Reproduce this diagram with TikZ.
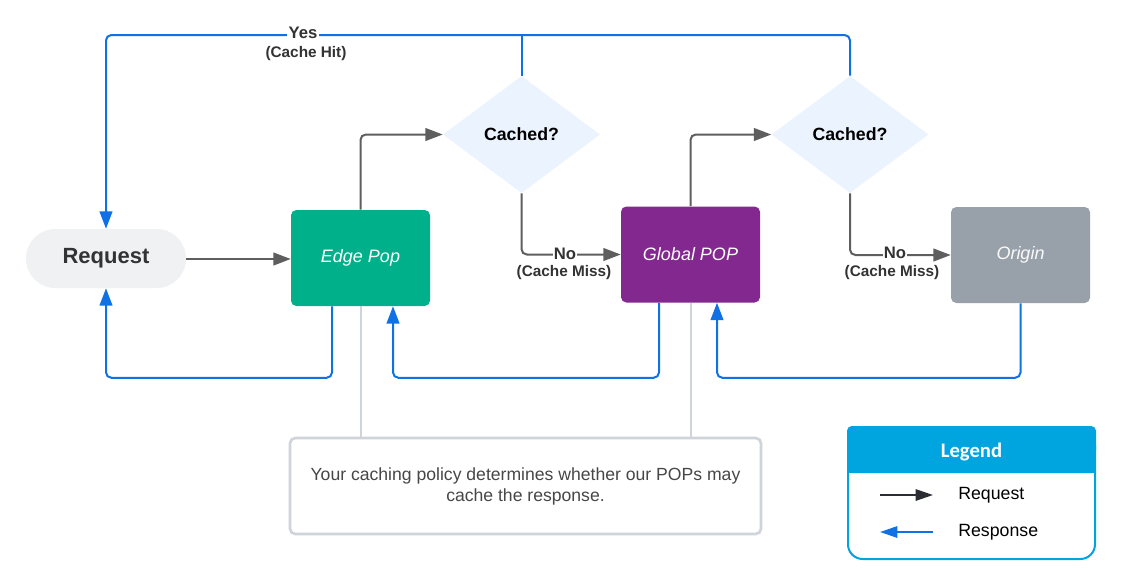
\documentclass[tikz,border=0pt]{standalone}
\usepackage{fontspec}
\setmainfont{Liberation Sans}
\newfontfamily\legfont{Carlito}
\usetikzlibrary{arrows.meta,shapes.geometric}
\definecolor{teal}{HTML}{00B08B}
\definecolor{purp}{HTML}{83288F}
\definecolor{origray}{HTML}{98A0A9}
\definecolor{dfill}{HTML}{EBF4FE}
\definecolor{reqfill}{HTML}{F0F1F3}
\definecolor{respblue}{HTML}{1071E5}
\definecolor{reqgray}{HTML}{5E5E5E}
\definecolor{notegray}{HTML}{CFD4DB}
\definecolor{legblue}{HTML}{00A5E0}
\definecolor{darktext}{HTML}{333333}
\definecolor{legdark}{HTML}{2B2D33}
\begin{document}
\begin{tikzpicture}[x=0.75pt,y=-0.75pt,
  box/.style={rectangle, rounded corners=4pt, minimum width=104.25pt, minimum height=72pt, inner sep=0pt, text=white, font=\fontsize{13.5}{16}\selectfont\itshape},
  dec/.style={diamond, fill=dfill, minimum width=117.75pt, minimum height=87.75pt, inner sep=0pt, font=\fontsize{13.3}{15}\selectfont\bfseries},
  reqline/.style={draw=reqgray, line width=1.5pt, rounded corners=4pt, -{Triangle[length=13pt,width=9.5pt]}},
  respline/.style={draw=respblue, line width=1.5pt, rounded corners=4pt},
  resp/.style={respline, -{Triangle[length=13pt,width=9.5pt]}},
  noteline/.style={draw=notegray, line width=1.5pt},
  lbl/.style={fill=white, inner sep=1pt, text=darktext, font=\fontsize{12.5}{14}\selectfont\bfseries},
  sublbl/.style={inner sep=0pt, text=darktext, font=\fontsize{11.5}{13}\selectfont\bfseries},
  legtext/.style={anchor=west, inner sep=0pt, text=black, font=\fontsize{13.3}{15}\selectfont}
]
\useasboundingbox (0,0) rectangle (1125,587);
\fill[white] (0,0) rectangle (1125,587);

% main nodes
\node[fill=reqfill, rounded corners=22pt, minimum width=120pt, minimum height=44.25pt, inner sep=0pt, text=darktext, font=\fontsize{16.5}{19}\selectfont\bfseries] (req) at (106,258.5) {Request};
\node[box, fill=teal] (edge) at (360.5,258) {Edge Pop};
\node[box, fill=purp] (gpop) at (690.5,254.5) {Global POP};
\node[box, fill=origray, text=white!95!origray] (origin) at (1020.5,255) {Origin};
\node[dec] (d1) at (521.5,134.5) {Cached?};
\node[dec] (d2) at (850,134.5) {Cached?};

% note
\node[draw=notegray, line width=2pt, rounded corners=4pt, minimum width=353.25pt, minimum height=72pt, inner sep=0pt, align=center, text=darktext!90!white, font=\fontsize{13.2}{15.75}\selectfont] (note) at (525.5,486) {Your caching policy determines whether our POPs may\\cache the response.};

% note connectors
\draw[noteline] (edge.south) -- (edge.south |- note.north);
\draw[noteline] (gpop.south) -- (gpop.south |- note.north);

% request connectors
\draw[reqline] (req.east |- 0,259) -- (edge.west |- 0,259);
\draw[reqline] (edge.north) |- (d1.west);
\draw[reqline] (d1.south) |- (gpop.west);
\draw[reqline] (gpop.north) |- (d2.west);
\draw[reqline] (d2.south) |- (origin.west);

% response connectors
\coordinate (top) at (106,35);
\draw[respline] (d1.north) -- (d1.north |- top);
\draw[resp] (d2.north) -- (d2.north |- top) -| (req.north);
\draw[resp] ([xshift=-21.375pt]edge.south) -- ++(0,71.5) -| (req.south);
\draw[resp] ([xshift=-23.625pt]gpop.south) -- ++(0,75) -| ([xshift=24.375pt]edge.south);
\draw[resp] (origin.south) -- ++(0,74.5) -| ([xshift=19.875pt]gpop.south);

% labels
\node[lbl] (yes) at (303,32.5) {Yes};
\node[sublbl] (hit) at (306,54) {(Cache Hit)};
\node[lbl] (no1) at (565,253.5) {No};
\node[sublbl] (miss1) at (564,273) {(Cache Miss)};
\node[lbl] (no2) at (895,253) {No};
\node[sublbl] (miss2) at (892,272.5) {(Cache Miss)};

% legend
\fill[legblue, rounded corners=3pt] (848,427) rectangle (1095,473);
\fill[legblue] (848,462) rectangle (1095,473);
\draw[legblue, line width=1.5pt, rounded corners=11pt] (848,445) -- (848,559) -- (1095,559) -- (1095,445);
\draw[legblue, line width=1.5pt, rounded corners=3pt] (848,450) -- (848,427) -- (1095,427) -- (1095,450);
\node[text=white, inner sep=0pt, font=\legfont\fontsize{15.5}{17}\selectfont\bfseries] (legtitle) at (971.5,452) {Legend};
\coordinate (la1) at (880,495);
\coordinate (la2) at (933,495);
\coordinate (lb1) at (933,532);
\coordinate (lb2) at (880,532);
\draw[draw=legdark, line width=1.5pt, -{Triangle[length=13pt,width=8.5pt]}] (la1) -- (la2);
\draw[draw=respblue, line width=1.5pt, -{Triangle[length=13pt,width=8.5pt]}] (lb1) -- (lb2);
\node[legtext] (lreq) at (958,495) {Request};
\node[legtext] (lresp) at (958,532) {Response};
\end{tikzpicture}
\end{document}
